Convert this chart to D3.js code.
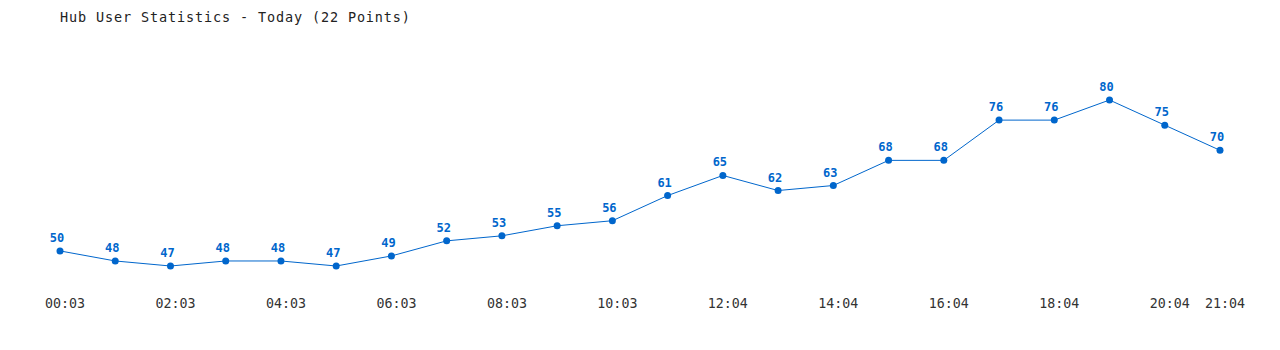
<!DOCTYPE html>
<html>
<head>
<meta charset="utf-8">
<script src="https://cdn.jsdelivr.net/npm/d3@7"></script>
<style>
  body { margin: 0; background: #fff; }
  text { font-family: "DejaVu Sans Mono", monospace; }
</style>
</head>
<body>
<svg id="chart" width="1280" height="350"></svg>
<script>
const title = 'Hub User Statistics - Today (22 Points)';
const users = [50, 48, 47, 48, 48, 47, 49, 52, 53, 55, 56, 61, 65, 62, 63, 68, 68, 76, 76, 80, 75, 70];
// tick label for the point index it sits under
const tickIdx = [0, 2, 4, 6, 8, 10, 12, 14, 16, 18, 20, 21];
const tickLabels = ['00:03', '02:03', '04:03', '06:03', '08:03', '10:03', '12:04', '14:04', '16:04', '18:04', '20:04', '21:04'];

const svg = d3.select('#chart');
const blue = '#0066cc';

const x = d3.scalePoint().domain(d3.range(users.length)).range([60, 1220]);
const y = d3.scaleLinear().domain([47, 80]).range([266, 100]);

svg.append('text')
  .attr('x', 60).attr('y', 22)
  .attr('font-size', 13.5)
  .attr('textLength', 350)
  .attr('fill', '#222')
  .text(title);

const line = d3.line().x((d, i) => x(i)).y(d => y(d));
svg.append('path')
  .datum(users)
  .attr('d', line)
  .attr('fill', 'none')
  .attr('stroke', blue)
  .attr('stroke-width', 1);

svg.selectAll('.dot').data(users).enter().append('circle')
  .attr('class', 'dot')
  .attr('cx', (d, i) => x(i))
  .attr('cy', d => y(d))
  .attr('r', 3.5)
  .attr('fill', blue);

svg.selectAll('.val').data(users).enter().append('text')
  .attr('class', 'val')
  .attr('x', (d, i) => x(i) - 3)
  .attr('y', d => y(d) - 9)
  .attr('text-anchor', 'middle')
  .attr('font-size', 12)
  .attr('font-weight', 'bold')
  .attr('fill', blue)
  .text(d => d);

svg.selectAll('.tick').data(tickIdx).enter().append('text')
  .attr('class', 'tick')
  .attr('x', d => x(d) + 5)
  .attr('y', 308)
  .attr('text-anchor', 'middle')
  .attr('font-size', 13.3)
  .attr('fill', '#333')
  .text((d, i) => tickLabels[i]);
</script>
</body>
</html>
